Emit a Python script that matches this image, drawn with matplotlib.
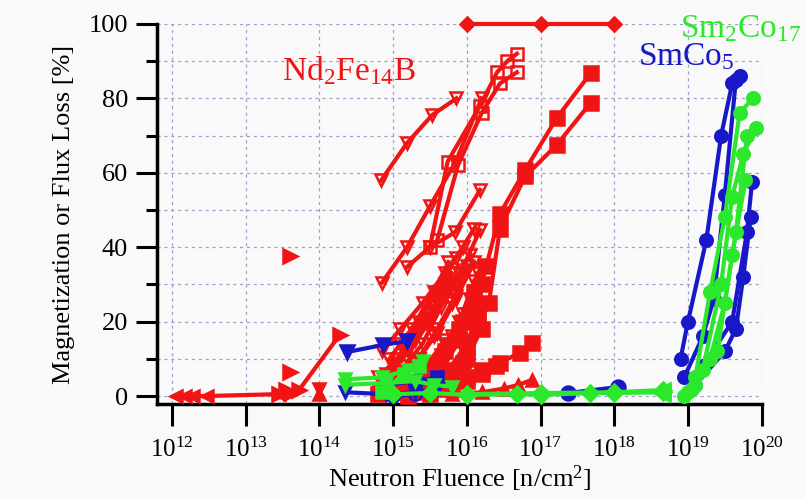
import numpy as np
import matplotlib
matplotlib.use('Agg')
import matplotlib.pyplot as plt
from matplotlib.ticker import MultipleLocator, FixedLocator, NullLocator, LogFormatterMathtext

plt.rcParams['font.family'] = ['Liberation Serif', 'DejaVu Serif']
plt.rcParams['mathtext.fontset'] = 'custom'
plt.rcParams['mathtext.rm'] = 'Liberation Serif'
plt.rcParams['mathtext.it'] = 'Liberation Serif:italic'

RED = '#f01414'
BLUE = '#1818c8'
GREEN = '#2ce82c'

# ---------------- data: x = log10(fluence), y = loss [%] ----------------
x_ticks_exp = [12, 13, 14, 15, 16, 17, 18, 19, 20]
y_ticks = [0, 20, 40, 60, 80, 100]

# Nd2Fe14B (red)
nd_diamond_x = [16.0, 17.0, 18.0]
nd_diamond_y = [100, 100, 100]
nd_left_x = [12.05, 12.18, 12.28, 12.48, 13.45]
nd_left_y = [0, 0, 0, 0, 0.5]
nd_right_x = [13.45, 13.55, 13.62, 13.72, 14.28]
nd_right_y = [0.5, 1.5, 0.8, 1.5, 16.5]
nd_right_iso_x = [13.6, 13.6]
nd_right_iso_y = [37.5, 6.5]
nd_up_iso_x = [14.0]
nd_up_iso_y = [0.5]
nd_down_iso_x = [14.0]
nd_down_iso_y = [2.0]

nd_v1_x = [14.84, 15.19, 15.53, 15.86]
nd_v1_y = [58, 68, 75.5, 80]
nd_v2_x = [14.85, 15.19, 15.5, 15.85, 16.2]
nd_v2_y = [30.5, 40, 51, 63, 80]
nd_v3_x = [15.19, 15.5, 15.84, 16.18]
nd_v3_y = [34.7, 40, 44, 55.4]
nd_v4_x = [15.2, 15.5, 15.84, 16.18]
nd_v4_y = [12, 20, 30, 44.6]
nd_v5_x = [14.8, 15.0, 15.2, 15.45, 15.7]
nd_v5_y = [2, 6, 12, 20, 30]
nd_v6_x = [14.85, 15.1, 15.35, 15.6, 15.85]
nd_v6_y = [1, 5, 10, 18, 27]
nd_v7_x = [14.9, 15.15, 15.4, 15.65, 15.95]
nd_v7_y = [3, 8, 14, 24, 34]
nd_v8_x = [15.0, 15.3, 15.55, 15.8, 16.05]
nd_v8_y = [0.5, 4, 9, 16, 26]
nd_v9_x = [15.1, 15.4, 15.65, 15.9, 16.1]
nd_v9_y = [1, 5, 11, 20, 31]
nd_v10_x = [14.9, 15.2, 15.5, 15.8]
nd_v10_y = [6, 13, 22, 33]
nd_v11_x = [15.0, 15.3, 15.6, 15.9, 16.05]
nd_v11_y = [8, 15, 25, 33, 38]
nd_v12_x = [14.95, 15.25, 15.55, 15.75]
nd_v12_y = [10, 18, 28, 36]
nd_v13_x = [14.85, 15.1, 15.4, 15.7, 15.95]
nd_v13_y = [12, 18, 25, 33, 40]
nd_v14_x = [15.05, 15.3, 15.55, 15.8, 16.0]
nd_v14_y = [4, 9, 16, 25, 35]
nd_v15_x = [15.3, 15.5, 15.7, 15.95, 16.15]
nd_v15_y = [3, 8, 14, 22, 33]
nd_v16_x = [14.9, 15.15, 15.45, 15.7]
nd_v16_y = [0.5, 3, 8, 15]
nd_v17_x = [15.1, 15.35, 15.6, 15.85, 16.1]
nd_v17_y = [14, 20, 28, 37, 45]
nd_v18_x = [14.8, 15.05, 15.3, 15.55]
nd_v18_y = [5, 10, 17, 24]
nd_v19_x = [15.35, 15.6, 15.85, 16.1]
nd_v19_y = [10, 17, 26, 36]
nd_v20_x = [15.6, 15.8, 16.0, 16.2]
nd_v20_y = [8, 14, 22, 30]

nd_os1_x = [15.5, 15.74, 16.18, 16.41, 16.55, 16.68]
nd_os1_y = [40, 63, 78, 87, 90, 92]
nd_os2_x = [15.6, 15.88, 16.2, 16.45, 16.68]
nd_os2_y = [42, 62, 76, 84, 87]

nd_fs1_x = [15.6, 15.9, 16.2, 16.45, 16.79, 17.22, 17.68]
nd_fs1_y = [5, 15, 30, 49, 60.7, 74.7, 86.8]
nd_fs2_x = [15.7, 16.0, 16.3, 16.45, 16.79, 17.22, 17.68]
nd_fs2_y = [3, 12, 25, 45, 59, 67.5, 78.8]
nd_fs3_x = [15.2, 15.5, 15.75, 16.0, 16.15]
nd_fs3_y = [0, 3, 7, 14, 22]
nd_fs4_x = [15.3, 15.6, 15.9, 16.1]
nd_fs4_y = [2, 8, 18, 28]
nd_fs5_x = [15.4, 15.7, 16.0, 16.2]
nd_fs5_y = [1, 4, 10, 18]
nd_fs6_x = [15.6, 15.9, 16.2, 16.45, 16.72, 16.88]
nd_fs6_y = [2, 5, 7, 9, 11.6, 14.2]
nd_fs7_x = [14.8, 15.0, 15.2, 15.4, 15.6, 15.8, 16.0]
nd_fs7_y = [0.5, 1, 1.5, 2, 3, 4, 5]
nd_fs8_x = [15.5, 15.75, 15.95, 16.15]
nd_fs8_y = [0.5, 4, 9, 20]
nd_fs9_x = [15.45, 15.7, 15.95, 16.1, 16.25]
nd_fs9_y = [6, 12, 20, 26, 35]
nd_fs10_x = [15.8, 16.0, 16.2, 16.4]
nd_fs10_y = [2, 4, 6, 8]
nd_ft_x = [15.8, 16.2, 16.5, 16.7, 16.88]
nd_ft_y = [0.5, 1, 2, 3, 4.3]

# SmCo5 (blue)
smco5_v1_x = [14.37, 14.86, 15.19]
smco5_v1_y = [11.8, 13.7, 14.8]
smco5_v2_x = [14.35, 14.9, 15.3, 15.6]
smco5_v2_y = [1, 0.5, 1, 2]
smco5_s1_x = [14.9, 15.3, 15.6]
smco5_s1_y = [3, 4, 5]
smco5_oc_x = [15.0, 15.3]
smco5_oc_y = [0, 0.5]
smco5_low_x = [17.37, 18.05]
smco5_low_y = [0.8, 2.4]
smco5_c1_x = [18.9, 19.0, 19.25, 19.45, 19.6, 19.7]
smco5_c1_y = [10, 20, 42, 70, 84, 86]
smco5_c2_x = [18.95, 19.2, 19.35, 19.5, 19.65]
smco5_c2_y = [5, 16, 26, 54, 85]
smco5_c3_x = [19.1, 19.5, 19.65, 19.75, 19.85]
smco5_c3_y = [3, 12, 18, 32, 48]
smco5_c4_x = [19.2, 19.6, 19.8, 19.87]
smco5_c4_y = [8, 20, 44, 57.6]

# Sm2Co17 (green)
sm2co17_v1_x = [14.35, 14.85, 15.2, 15.4]
sm2co17_v1_y = [4.5, 5, 7, 9.5]
sm2co17_v2_x = [14.35, 14.9, 15.3, 15.55, 15.8]
sm2co17_v2_y = [3, 3.5, 4, 3, 2.5]
sm2co17_v3_x = [14.85, 15.15, 15.35]
sm2co17_v3_y = [1, 6, 8]
sm2co17_d1_x = [15.0, 15.5, 16.0, 16.68, 17.0, 17.67, 18.0]
sm2co17_d1_y = [0.5, 0.8, 0.3, 0.5, 0.3, 0.8, 0.8]
sm2co17_d2_x = [16.0, 17.0, 18.0]
sm2co17_d2_y = [0.5, 0.8, 1.0]
sm2co17_end_x = [18.66, 18.66, 18.66]
sm2co17_end_y = [1.0, 1.6, 0.5]
sm2co17_c1_x = [18.95, 19.1, 19.3, 19.5, 19.7, 19.88]
sm2co17_c1_y = [0, 5, 28, 48, 76, 80]
sm2co17_c2_x = [19.0, 19.2, 19.45, 19.6, 19.75, 19.92]
sm2co17_c2_y = [1, 7, 30, 53.6, 65, 72]
sm2co17_c3_x = [19.05, 19.3, 19.5, 19.65, 19.8]
sm2co17_c3_y = [2, 10, 25, 44, 69.8]
sm2co17_c4_x = [19.1, 19.4, 19.6, 19.78]
sm2co17_c4_y = [3, 12, 38, 58]

# ---------------- figure ----------------
fig = plt.figure(figsize=(8.06, 4.99), dpi=100, facecolor='#f9f9f9')
ax = fig.add_axes([0.195, 0.19, 0.75, 0.762], facecolor='#f9f9f9')


def draw(xe, y, color, marker, filled=True, ms=7.5, lw=3.0, ls='-'):
    ax.plot(10 ** np.asarray(xe, dtype=float), y, color=color, marker=marker,
            ms=ms, lw=lw, ls=ls, mfc=color if filled else 'none', mec=color,
            mew=1.8, clip_on=False, zorder=3)


# red
draw(nd_diamond_x, nd_diamond_y, RED, 'D', ms=7)
draw(nd_left_x, nd_left_y, RED, '<', ms=9)
draw(nd_right_x, nd_right_y, RED, '>', ms=10)
draw(nd_right_iso_x, nd_right_iso_y, RED, '>', ms=10, ls='none')
draw(nd_up_iso_x, nd_up_iso_y, RED, '^', ms=8, ls='none')
draw(nd_down_iso_x, nd_down_iso_y, RED, 'v', ms=8, ls='none')
for xs, ys in [(nd_v1_x, nd_v1_y), (nd_v2_x, nd_v2_y), (nd_v3_x, nd_v3_y),
               (nd_v4_x, nd_v4_y), (nd_v5_x, nd_v5_y), (nd_v6_x, nd_v6_y),
               (nd_v7_x, nd_v7_y), (nd_v8_x, nd_v8_y), (nd_v9_x, nd_v9_y),
               (nd_v10_x, nd_v10_y), (nd_v11_x, nd_v11_y), (nd_v12_x, nd_v12_y),
               (nd_v13_x, nd_v13_y), (nd_v14_x, nd_v14_y), (nd_v15_x, nd_v15_y),
               (nd_v16_x, nd_v16_y), (nd_v17_x, nd_v17_y), (nd_v18_x, nd_v18_y),
               (nd_v19_x, nd_v19_y), (nd_v20_x, nd_v20_y)]:
    draw(xs, ys, RED, 'v', filled=False, ms=9)
draw(nd_os1_x, nd_os1_y, RED, 's', filled=False, ms=9)
draw(nd_os2_x, nd_os2_y, RED, 's', filled=False, ms=9)
for xs, ys in [(nd_fs1_x, nd_fs1_y), (nd_fs2_x, nd_fs2_y), (nd_fs3_x, nd_fs3_y),
               (nd_fs4_x, nd_fs4_y), (nd_fs5_x, nd_fs5_y), (nd_fs6_x, nd_fs6_y),
               (nd_fs7_x, nd_fs7_y), (nd_fs8_x, nd_fs8_y), (nd_fs9_x, nd_fs9_y),
               (nd_fs10_x, nd_fs10_y)]:
    draw(xs, ys, RED, 's', ms=10)
draw(nd_ft_x, nd_ft_y, RED, '^', ms=9)

# blue
draw(smco5_v1_x, smco5_v1_y, BLUE, 'v', ms=10)
draw(smco5_v2_x, smco5_v2_y, BLUE, 'v', ms=9)
draw(smco5_s1_x, smco5_s1_y, BLUE, 's', ms=8)
draw(smco5_oc_x, smco5_oc_y, BLUE, 'o', filled=False, ms=9)
draw(smco5_low_x, smco5_low_y, BLUE, 'o', ms=10)
for xs, ys in [(smco5_c1_x, smco5_c1_y), (smco5_c2_x, smco5_c2_y),
               (smco5_c3_x, smco5_c3_y), (smco5_c4_x, smco5_c4_y)]:
    draw(xs, ys, BLUE, 'o', ms=9)

# green
draw(sm2co17_v1_x, sm2co17_v1_y, GREEN, 'v', ms=9)
draw(sm2co17_v2_x, sm2co17_v2_y, GREEN, 'v', ms=9)
draw(sm2co17_v3_x, sm2co17_v3_y, GREEN, 's', ms=8)
draw(sm2co17_d1_x + [sm2co17_end_x[0]], sm2co17_d1_y + [sm2co17_end_y[0]], GREEN, 'D', ms=8)
draw(sm2co17_d2_x + [sm2co17_end_x[1]], sm2co17_d2_y + [sm2co17_end_y[1]], GREEN, 'D', ms=8)
draw(sm2co17_end_x, sm2co17_end_y, GREEN, '<', filled=False, ms=10, ls='none')
for xs, ys in [(sm2co17_c1_x, sm2co17_c1_y), (sm2co17_c2_x, sm2co17_c2_y),
               (sm2co17_c3_x, sm2co17_c3_y), (sm2co17_c4_x, sm2co17_c4_y)]:
    draw(xs, ys, GREEN, 'o', ms=9)

# axes
ax.set_xscale('log')
ax.set_xlim(10 ** 11.8, 1e20)
ax.set_ylim(-2.2, 100)
ax.xaxis.set_major_locator(FixedLocator([10.0 ** e for e in x_ticks_exp]))
ax.xaxis.set_minor_locator(NullLocator())
ax.xaxis.set_major_formatter(LogFormatterMathtext())
ax.yaxis.set_major_locator(FixedLocator(y_ticks))
ax.yaxis.set_minor_locator(MultipleLocator(10))

grid_kw = dict(color='#a0a0cc', linestyle=(0, (2.5, 3)), linewidth=0.9)
ax.grid(True, which='major', axis='x', **grid_kw)
ax.grid(True, which='both', axis='y', **grid_kw)
ax.set_axisbelow(True)

for s in ['top', 'right']:
    ax.spines[s].set_visible(False)
for s in ['left', 'bottom']:
    ax.spines[s].set_linewidth(2.5)

ax.tick_params(axis='y', which='major', direction='out', length=15, width=2.2,
               labelsize=19, pad=6)
ax.tick_params(axis='y', which='minor', direction='out', length=8, width=2.2)
ax.tick_params(axis='x', which='major', direction='out', length=16, width=2.2,
               labelsize=18, pad=8)

ax.set_ylabel('Magnetization or Flux Loss [%]', fontsize=19, labelpad=10)
ax.set_xlabel('Neutron Fluence [n/cm$^2$]', fontsize=19, labelpad=1)

ax.text(10 ** 13.5, 85, 'Nd$_2$Fe$_{14}$B', color=RED, fontsize=24, ha='left', va='baseline')
ax.text(10 ** 18.32, 89, 'SmCo$_5$', color=BLUE, fontsize=24, ha='left', va='baseline')
ax.text(10 ** 18.89, 96.5, 'Sm$_2$Co$_{17}$', color=GREEN, fontsize=24, ha='left',
        va='baseline', clip_on=False)

fig.savefig('out.png', dpi=100, facecolor=fig.get_facecolor())
